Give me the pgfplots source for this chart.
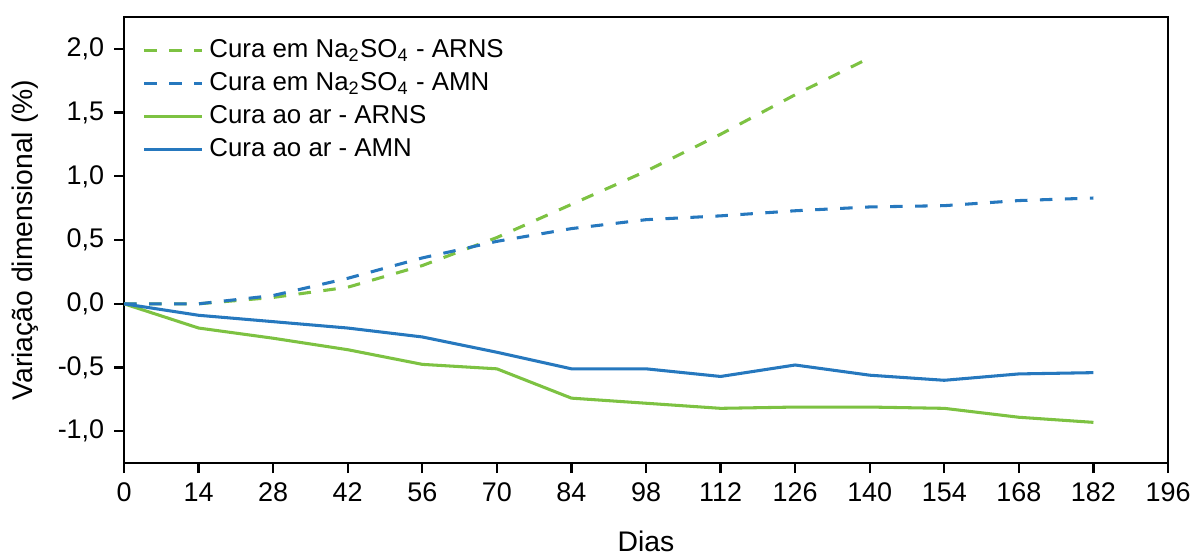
\documentclass[border=0pt]{standalone}
\usepackage{fontspec}
\setmainfont{Liberation Sans}
\usepackage{pgfplots}
\pgfplotsset{compat=1.18}
\definecolor{cgreen}{RGB}{125,194,66}
\definecolor{cblue}{RGB}{38,120,190}
\begin{document}
\begin{tikzpicture}
\begin{axis}[
  scale only axis,
  width=375.8pt, height=160.6pt,
  xmin=0, xmax=196, ymin=-1.25, ymax=2.25,
  xtick={0,14,...,196},
  ytick={-1,-0.5,0,0.5,1,1.5,2},
  tick align=outside,
  major tick length=3.6pt,
  xtick pos=bottom, ytick pos=left,
  axis line style={line width=0.8pt},
  tick style={line width=0.8pt, black},
  /pgf/number format/assume math mode=true,
  /pgf/number format/use comma,
  yticklabel style={/pgf/number format/fixed, /pgf/number format/fixed zerofill, /pgf/number format/precision=1},
  xticklabel style={/pgf/number format/1000 sep={}},
  ticklabel style={font=\fontsize{9.7}{11.6}\selectfont},
  xlabel={Dias},
  ylabel={Variação dimensional (\%)},
  label style={font=\fontsize{10.2}{12.2}\selectfont},
  xlabel style={at={(axis description cs:0.5,-0.176)}, anchor=center},
  ylabel style={at={(axis description cs:-0.0947,0.5)}, anchor=center},
  legend style={draw=none, fill=none, at={(axis description cs:0.0172,0.963)}, anchor=north west, row sep=-0.1pt, font=\fontsize{9.3}{11.1}\selectfont, inner sep=0pt},
  legend cell align=left,
  legend image code/.code={\draw[#1] (0pt,0pt) -- (21pt,0pt);},
  every axis plot/.append style={line width=1.1pt},
]
\addplot[cgreen, dash pattern=on 4.5pt off 4.5pt] coordinates {
 (0,0) (14,0.0) (28,0.05) (42,0.13) (56,0.30) (70,0.52) (84,0.78) (98,1.04) (112,1.33) (126,1.64) (140,1.93)};
\addlegendentry{Cura em Na\textsubscript{2}SO\textsubscript{4} - ARNS}
\addplot[cblue, dash pattern=on 4.5pt off 4.5pt] coordinates {
 (0,0) (14,0.0) (28,0.065) (42,0.20) (56,0.36) (70,0.49) (84,0.59) (98,0.66) (112,0.69) (126,0.73) (140,0.76) (154,0.77) (168,0.81) (182,0.83)};
\addlegendentry{Cura em Na\textsubscript{2}SO\textsubscript{4} - AMN}
\addplot[cgreen] coordinates {
 (0,0) (14,-0.19) (28,-0.27) (42,-0.36) (56,-0.475) (70,-0.51) (84,-0.74) (98,-0.78) (112,-0.82) (126,-0.81) (140,-0.81) (154,-0.82) (168,-0.89) (182,-0.93)};
\addlegendentry{Cura ao ar - ARNS}
\addplot[cblue] coordinates {
 (0,0) (14,-0.09) (28,-0.14) (42,-0.19) (56,-0.26) (70,-0.38) (84,-0.51) (98,-0.51) (112,-0.57) (126,-0.48) (140,-0.56) (154,-0.60) (168,-0.55) (182,-0.54)};
\addlegendentry{Cura ao ar - AMN}
\end{axis}
\pgfresetboundingbox
\path[use as bounding box] ([xshift=-44.64pt, yshift=-33.48pt]current axis.south west) rectangle ([xshift=9.36pt, yshift=6.12pt]current axis.north east);
\end{tikzpicture}
\end{document}
